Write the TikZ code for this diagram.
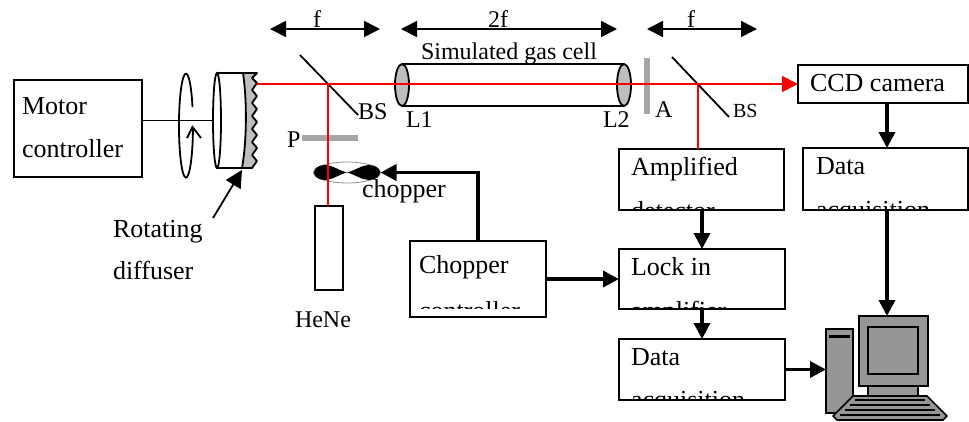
\documentclass[tikz,border=0pt]{standalone}
\usepackage{fontspec}
\setmainfont{Liberation Serif}
\usetikzlibrary{arrows.meta,shapes.geometric}
\definecolor{beam}{RGB}{255,0,0}
\definecolor{pcgray}{RGB}{150,150,150}
\definecolor{optgray}{RGB}{190,190,190}
\tikzset{
  box/.style={draw=black,line width=2pt,fill=none,inner sep=0pt,outer sep=0pt},
  lab/.style={anchor=base west,inner sep=0pt,outer sep=0pt,font=\fontsize{26}{26}\selectfont},
  labm/.style={lab,font=\fontsize{24}{24}\selectfont},
  labs/.style={lab,font=\fontsize{20}{20}\selectfont},
  thin line/.style={draw=black,line width=1.8pt},
  beamline/.style={draw=beam,line width=1.8pt},
  flow/.style={draw=black,line width=3.6pt,-{Triangle[length=16pt,width=16pt]}},
  span/.style={draw=black,line width=1.6pt,{Triangle[length=16pt,width=16pt]}-{Triangle[length=16pt,width=16pt]}},
  pc/.style={draw=black,line width=1.7pt,fill=pcgray},
  bar/.style={draw=none,fill=pcgray!85!white}
}
\begin{document}
\begin{tikzpicture}[x=1pt,y=1pt,yscale=-1]
\useasboundingbox (0,0) rectangle (969,421);
% boxes
\node[box,minimum width=128pt,minimum height=97pt] (motor) at (78,128.5) {};
\node[box,minimum width=170pt,minimum height=38pt] (ccd) at (883,84) {};
\node[box,minimum width=165pt,minimum height=62pt] (daqa) at (885.5,179) {};
\node[box,minimum width=165pt,minimum height=61pt] (amp) at (701.5,179.5) {};
\node[box,line width=1.7pt,minimum width=136pt,minimum height=76pt] (chopc) at (478,279) {};
\node[box,line width=2.5pt,minimum width=166pt,minimum height=60pt] (lock) at (702,279) {};
\node[box,line width=2.5pt,minimum width=166pt,minimum height=61pt] (daqb) at (702,369.5) {};
\node[draw=black,line width=1.6pt,minimum width=28pt,minimum height=84pt,inner sep=0pt,outer sep=0pt] (hene) at (329,248) {};
% box texts
\node[lab] (tmotor) at (22,114) {Motor};
\node[lab] (tcontr) at (22,157) {controller};
\node[lab] (tccd) at (810,91) {CCD camera};
\node[lab] (tdata) at (816,174) {Data};
\node[lab] (tamp) at (631,175) {Amplified};
\node[lab] (tchop) at (419,273) {Chopper};
\node[lab] (tlock) at (631,275) {Lock in};
\node[lab] (tdatb) at (631,365) {Data};
\begin{scope}
  \clip (804,150) rectangle (967,208.5);
  \node[lab] (tacqa) at (816,218) {acquisition};
\end{scope}
\begin{scope}
  \clip (620,150) rectangle (783,208.5);
  \node[lab] (tdet) at (631,219) {detector};
\end{scope}
\begin{scope}
  \clip (411,242) rectangle (545,308);
  \node[lab] (tctrl) at (419,319) {controller};
\end{scope}
\begin{scope}
  \clip (620,250) rectangle (784,307.5);
  \node[lab] (tampl) at (631,319) {amplifier};
\end{scope}
\begin{scope}
  \clip (620,340) rectangle (784,398);
  \node[lab] (tacqb) at (631,408.5) {acquisition};
\end{scope}
% other labels
\node[lab] (trot) at (113,237) {Rotating};
\node[lab] (tdif) at (113,279) {diffuser};
\node[labm] (tbsa) at (358,119) {BS};
\node[labm] (tp) at (287,147) {P};
\node[labm] (tla) at (406,127) {L1};
\node[labm] (tlb) at (603,127) {L2};
\node[labm] (ta) at (655,117) {A};
\node[labs] (tbsb) at (733,117) {BS};
\node[lab] (tchopper) at (362,197) {chopper};
\node[labm] (thene) at (295,327) {HeNe};
\node[labm] (tfa) at (313,27) {f};
\node[labm] (tff) at (488,27) {2f};
\node[labm] (tfb) at (687,27) {f};
\node[labm] (tgas) at (421,59) {Simulated gas cell};
% focal spans
\coordinate (fal) at (270,29); \coordinate (far) at (380,29);
\coordinate (ffl) at (401,29); \coordinate (ffr) at (617,29);
\coordinate (fbl) at (647,29); \coordinate (fbr) at (757,29);
\draw[span] (fal) -- (far);
\draw[span] (ffl) -- (ffr);
\draw[span] (fbl) -- (fbr);
% rotation symbol
\draw[thin line] (192.5,107) arc[start angle=-21,end angle=-358,x radius=7,y radius=52];
\draw[thin line] (187,138) -- (192.5,127) -- (201,138);
% diffuser
\fill[optgray] (243,73) .. controls (247,100) and (247,140) .. (242,168) -- (252,168) -- (257,161)
  -- (252,155) -- (257,148) -- (252,142) -- (257,135) -- (252,129) -- (257,122) -- (252,116)
  -- (257,109) -- (252,103) -- (257,96) -- (252,90) -- (257,83) -- (252,78) -- (257,73) -- cycle;
\draw[thin line,line join=round] (217,73) -- (257,73) -- (252,78) -- (257,83) -- (252,90) -- (257,96) -- (252,103)
  -- (257,109) -- (252,116) -- (257,122) -- (252,129) -- (257,135) -- (252,142) -- (257,148)
  -- (252,155) -- (257,161) -- (252,168) -- (217,168);
\draw[thin line] (243,73) .. controls (247,100) and (247,140) .. (242,168);
\node[draw=black,line width=1.8pt,shape=ellipse,minimum width=8pt,minimum height=95pt,inner sep=0pt,outer sep=0pt] (diffb) at (217,120.5) {};
% axis
\draw[thin line] (motor.east |- diffb.west) -- (diffb.west);
% pointer
\coordinate (ptr) at (213,218);
\coordinate (ptrtip) at (242,170);
\draw[draw=black,line width=1.8pt,-{Triangle[length=17pt,width=17pt]}] (ptr) -- (ptrtip);
% gas cell
\node[draw=black,line width=1.8pt,fill=optgray,shape=ellipse,minimum width=14pt,minimum height=42pt,inner sep=0pt,outer sep=0pt] (lensa) at (402,85) {};
\node[draw=black,line width=1.8pt,fill=optgray,shape=ellipse,minimum width=14pt,minimum height=42pt,inner sep=0pt,outer sep=0pt] (lensb) at (624,85) {};
\draw[thin line] (lensa.north) -- (lensb.north);
\draw[thin line] (lensa.south) -- (lensb.south);
% attenuator and polarizer
\node[bar,minimum width=6pt,minimum height=56pt,inner sep=0pt] (abar) at (647,86) {};
\node[bar,minimum width=56pt,minimum height=6pt,inner sep=0pt] (pbar) at (330,138) {};
% beam splitters
\coordinate (bsat) at (300,55); \coordinate (bsab) at (358,115);
\coordinate (bsbt) at (672,57); \coordinate (bsbb) at (729,117);
\draw[thin line] (bsat) -- (bsab);
\draw[thin line] (bsbt) -- (bsbb);
% chopper
\node[draw=black!45,line width=0.8pt,shape=ellipse,minimum width=67pt,minimum height=21pt,inner sep=0pt,outer sep=0pt] (chopper) at (347,172.5) {};
\fill[black] (chopper.center) .. controls (338,170) and (332,165) .. (325,165) .. controls (318,165) and (314,169) .. (314,172.5)
  .. controls (314,176) and (318,180) .. (325,180) .. controls (332,180) and (338,175) .. (chopper.center)
  .. controls (356,170) and (362,165) .. (369,165) .. controls (376,165) and (380,169) .. (380,172.5)
  .. controls (380,176) and (376,180) .. (369,180) .. controls (362,180) and (356,175) .. (chopper.center) -- cycle;
% beams
\coordinate (beamstart) at (257,84);
\coordinate (splitone) at (328,84);
\coordinate (splittwo) at (698,84);
\draw[beamline,-{Triangle[length=16pt,width=16pt,fill=beam]}] (beamstart) -- (ccd.west);
\draw[beamline] (splitone) -- (splitone |- hene.north);
\draw[beamline] (splittwo) -- (splittwo |- amp.north);
% computer
\node[pc,minimum width=27pt,minimum height=84pt,inner sep=0pt,outer sep=0pt] (tower) at (839.5,371) {};
\draw[draw=black,line width=3pt] (829,336) -- (850,336);
\node[pc,minimum width=50pt,minimum height=12pt,inner sep=0pt,outer sep=0pt] (neck) at (893,391) {};
\node[pc,minimum width=69pt,minimum height=70pt,inner sep=0pt,outer sep=0pt] (monitor) at (893.5,351) {};
\node[pc,line width=2pt,minimum width=50pt,minimum height=47pt,inner sep=0pt,outer sep=0pt] (screen) at (893,350.5) {};
\draw[pc,line join=round] (853,396) -- (927,396) -- (947,416) -- (943,420) -- (837,420) -- (833,416) -- cycle;
\draw[draw=black,line width=1.6pt] (855,400) -- (925,400);
\draw[draw=black,line width=1.6pt] (850,405) -- (930,405);
\draw[draw=black,line width=1.6pt] (845,410) -- (935,410);
\draw[draw=black,line width=1.6pt] (840,415) -- (940,415);
% flow arrows
\coordinate (colr) at (887,0);
\coordinate (coll) at (702,0);
\draw[flow] (colr |- ccd.south) -- (colr |- daqa.north);
\draw[flow] (colr |- daqa.south) -- (colr |- monitor.north);
\draw[flow] (coll |- amp.south) -- (coll |- lock.north);
\draw[flow] (coll |- lock.south) -- (coll |- daqb.north);
\draw[flow] (daqb.east) -- (tower.west |- daqb.east);
\draw[flow] (chopc.east) -- (lock.west);
\draw[flow] (chopc.north) |- (chopper.east);
\end{tikzpicture}
\end{document}
